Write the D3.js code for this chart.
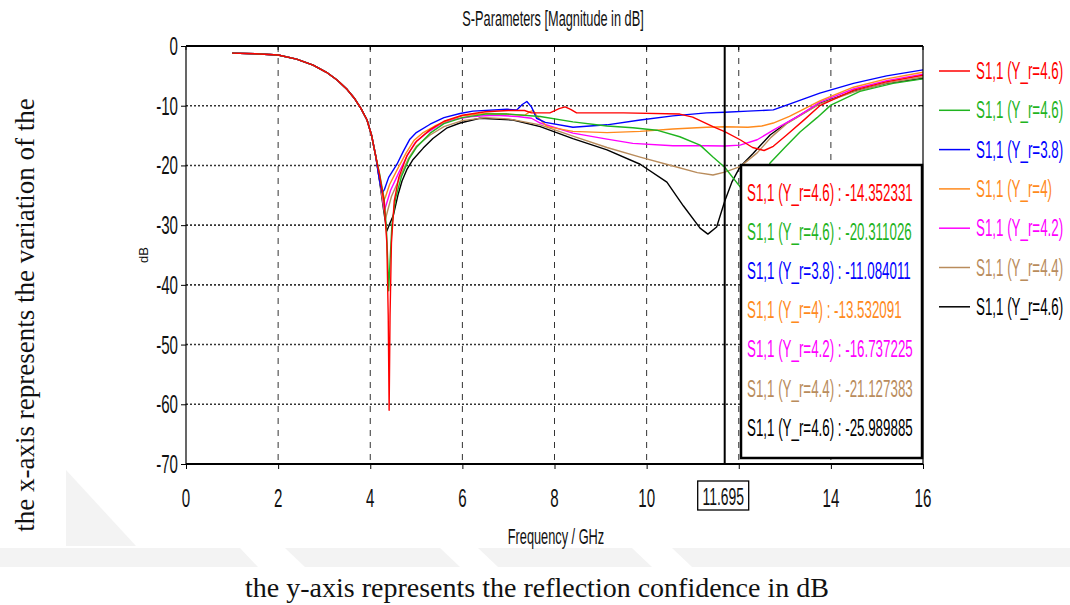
<!DOCTYPE html>
<html>
<head>
<meta charset="utf-8">
<script src="https://cdn.jsdelivr.net/npm/d3@7"></script>
<style>
  html, body { margin: 0; padding: 0; background: #fff; }
  svg { display: block; }
  .narrow { font-family: "Liberation Sans", Arial, sans-serif; }
  .serif { font-family: "Liberation Serif", "Times New Roman", serif; }
</style>
</head>
<body>
<svg id="chart" width="1070" height="605"></svg>
<script>
// ---- data -------------------------------------------------------------
const yTicks = [0, -10, -20, -30, -40, -50, -60, -70];
const xGridTicks = [0, 2, 4, 6, 8, 10, 12, 14, 16];
const xTickLabels = [0, 2, 4, 6, 8, 10, 14, 16];
const markerFreq = 11.695;

const seriesNames = ["S1,1 (Y_r=4.6)", "S1,1 (Y_r=4.6)", "S1,1 (Y_r=3.8)", "S1,1 (Y_r=4)",
                     "S1,1 (Y_r=4.2)", "S1,1 (Y_r=4.4)", "S1,1 (Y_r=4.6)"];
const seriesColors = ["#ff0000", "#1fb41f", "#0000ff", "#ff8a1c", "#ff00ff", "#b98c5c", "#000000"];
const markerValues = [-14.352331, -20.311026, -11.084011, -13.532091, -16.737225, -21.127383, -25.989885];

// low-band roll-off shared by every sweep, [GHz, dB]
const commonOnset = [[1.0,-1.2],[1.5,-1.3],[2.0,-1.5],[2.4,-2.2],[2.76,-3.2],[3.05,-4.4],[3.28,-5.7],
  [3.5,-7.3],[3.65,-8.7],[3.8,-10.5],[3.93,-12.4],[4.03,-15.0],[4.12,-18.5]];

const redTail = [[4.2,-21.5],[4.3,-26],[4.36,-33],[4.39,-45],[4.41,-61],[4.43,-45],[4.46,-33],[4.52,-26],
  [4.62,-22.0],[4.8,-18.3],[5.0,-16.0],[5.3,-14.0],[5.6,-12.6],[6.0,-11.6],[6.5,-11.0],[7.0,-10.8],
  [7.35,-10.8],[7.5,-11.2],[7.9,-11.2],[8.1,-10.5],[8.23,-10.2],[8.35,-10.6],[8.48,-11.2],[9.5,-11.2],
  [10.72,-11.4],[11.0,-11.9],[11.44,-13.5],[11.695,-14.352331],[12.03,-15.7],[12.3,-17.0],[12.55,-17.5],
  [12.75,-16.8],[13.04,-14.9],[13.4,-12.5],[13.76,-10.0],[14.5,-7.4],[15.2,-6.0],[16,-4.9]];

const greenTail = [[4.2,-21.3],[4.3,-25.5],[4.35,-30.5],[4.38,-36],[4.40,-41],[4.43,-36],[4.47,-30],
  [4.55,-25.5],[4.68,-21.8],[4.85,-18.8],[5.0,-17.0],[5.3,-14.6],[5.6,-13.0],[6.0,-12.0],[6.5,-11.4],
  [6.97,-11.4],[7.69,-11.8],[8.4,-12.7],[9.14,-13.4],[9.7,-13.7],[10.22,-14.1],[10.72,-15.2],
  [11.16,-16.6],[11.44,-18.6],[11.695,-20.311026],[12.03,-23.6],[12.28,-25.3],[12.45,-23.5],
  [12.68,-19.6],[13.0,-17.0],[13.33,-14.4],[13.7,-12.0],[14.0,-9.9],[14.63,-7.6],[15.35,-6.25],[16,-5.5]];

const blueTail = [[4.18,-21.5],[4.22,-23.3],[4.26,-24.6],[4.31,-24.0],[4.4,-22],[4.58,-19.8],[4.72,-17.6],
  [4.86,-15.6],[5.0,-14.5],[5.3,-13.1],[5.6,-12.0],[5.95,-11.3],[6.23,-10.9],[6.97,-10.6],[7.18,-10.7],
  [7.3,-9.8],[7.4,-9.3],[7.5,-10.2],[7.61,-12.1],[7.8,-12.8],[8.4,-13.6],[9.14,-13.2],[9.86,-12.4],
  [10.57,-11.7],[11.3,-11.2],[11.695,-11.084011],[12.2,-10.9],[12.75,-10.7],[13.04,-9.9],[13.4,-8.9],
  [13.76,-7.9],[14.49,-6.25],[15.21,-5.0],[16,-4.0]];

const orangeTail = [[4.2,-21.8],[4.25,-24.5],[4.29,-26.0],[4.33,-25.3],[4.42,-23.2],[4.6,-20.5],[4.78,-17.9],
  [4.95,-15.8],[5.15,-14.5],[5.4,-13.4],[5.7,-12.4],[6.0,-11.7],[6.5,-11.3],[7.0,-11.4],[7.35,-11.6],
  [7.47,-11.0],[7.54,-10.8],[7.62,-11.8],[7.84,-13.5],[8.4,-14.3],[9.14,-14.5],[9.86,-14.3],
  [10.57,-13.9],[11.3,-13.6],[11.695,-13.532091],[12.2,-13.6],[12.5,-13.4],[12.75,-12.9],[13.1,-11.8],
  [13.4,-10.6],[13.76,-9.2],[14.49,-6.9],[15.21,-5.5],[16,-4.4]];

const magentaTail = [[4.2,-22],[4.27,-25.5],[4.31,-27.5],[4.35,-26.5],[4.44,-24.2],[4.62,-21.2],[4.8,-18.4],
  [4.97,-16.2],[5.2,-14.7],[5.5,-13.2],[5.8,-12.3],[6.2,-11.8],[6.7,-11.6],[7.2,-11.8],[7.5,-12.1],
  [7.69,-12.9],[8.4,-14.6],[9.14,-15.6],[9.7,-16.3],[10.57,-16.7],[11.3,-16.7],[11.695,-16.737225],
  [12.03,-16.6],[12.4,-15.7],[12.75,-14.1],[13.3,-11.7],[13.76,-9.4],[14.49,-7.2],[15.21,-5.8],[16,-4.7]];

const brownTail = [[4.2,-22.2],[4.28,-26.5],[4.33,-29],[4.37,-27.8],[4.46,-25.2],[4.65,-21.9],[4.83,-18.8],
  [5.0,-16.8],[5.3,-14.9],[5.6,-13.5],[6.0,-12.5],[6.5,-12.0],[7.0,-12.2],[7.69,-13.2],[8.4,-15.1],
  [9.14,-17.0],[9.86,-18.6],[10.57,-20.1],[11.1,-21.2],[11.44,-21.6],[11.695,-21.127383],[12.03,-20.2],
  [12.4,-17.9],[12.7,-15.3],[13.04,-13.0],[13.76,-9.7],[14.49,-7.7],[15.21,-6.2],[16,-5.2]];

const blackTail = [[4.2,-22.5],[4.3,-28],[4.36,-31],[4.41,-30],[4.5,-28.4],[4.6,-25],[4.69,-22.6],
  [4.8,-20.6],[4.93,-19.0],[5.15,-17.1],[5.36,-15.5],[5.67,-13.7],[5.95,-12.9],[6.38,-12.1],[7.1,-12.4],
  [7.69,-13.5],[8.4,-15.5],[9.14,-17.4],[9.86,-19.8],[10.44,-22.8],[10.8,-26.8],[11.16,-30.5],
  [11.33,-31.5],[11.52,-30.3],[11.695,-25.989885],[11.85,-22.8],[12.03,-20.2],[12.31,-18.0],
  [12.68,-14.9],[13.04,-12.9],[13.76,-9.6],[14.49,-7.6],[15.21,-6.25],[16,-5.4]];

const seriesTails = [redTail, greenTail, blueTail, orangeTail, magentaTail, brownTail, blackTail];

// ---- layout -------------------------------------------------------------
const svg = d3.select("#chart");
const plot = { left: 186, right: 923, top: 46, bottom: 464 };
const x = d3.scaleLinear().domain([0, 16]).range([plot.left, plot.right]);
const y = d3.scaleLinear().domain([0, -70]).range([plot.top, plot.bottom]);
const SX = 0.58; // horizontal squeeze for the tall, narrow UI lettering

function narrowText(parent, tx, ty, str, size, anchor, fill) {
  return parent.append("text").attr("class", "narrow")
    .attr("transform", `translate(${tx},${ty}) scale(${SX},1)`)
    .attr("text-anchor", anchor).attr("font-size", size).attr("fill", fill).text(str);
}

// faint page watermark behind everything
const wm = svg.append("g").attr("fill", "#f3f3f3");
[[[0,548],[240,548],[258,567],[0,567]],
 [[285,548],[440,548],[460,567],[305,567]],
 [[478,548],[632,548],[652,567],[498,567]],
 [[672,548],[1070,548],[1070,567],[692,567]],
 [[66,470],[136,546],[66,546]]].forEach(p => wm.append("polygon").attr("points", p.join(" ")));

// title
narrowText(svg, 553, 26, "S-Parameters [Magnitude in dB]", 22, "middle", "#111");

// grid
const grid = svg.append("g");
grid.selectAll("line.v").data(xGridTicks.filter(d => d > 0 && d < 16)).join("line")
  .attr("x1", d => x(d)).attr("x2", d => x(d)).attr("y1", plot.top).attr("y2", plot.bottom)
  .attr("stroke", "#333").attr("stroke-width", 1).attr("stroke-dasharray", "6,6");
grid.selectAll("line.h").data(yTicks.filter(d => d < 0 && d > -70)).join("line")
  .attr("x1", plot.left).attr("x2", plot.right).attr("y1", d => y(d)).attr("y2", d => y(d))
  .attr("stroke", "#333").attr("stroke-width", 1.6).attr("stroke-dasharray", "2,2");

// curves
const line = d3.line().x(d => x(d[0])).y(d => y(d[1]));
const curves = svg.append("g").attr("fill", "none").attr("stroke-width", 1.4)
  .attr("stroke-linejoin", "round");
// draw back-to-front so the first sweep sits on top
for (let i = seriesTails.length - 1; i >= 0; i--) {
  curves.append("path").attr("d", line(commonOnset.concat(seriesTails[i])))
    .attr("stroke", seriesColors[i]);
}

// axes
const xAxis = d3.axisBottom(x).tickValues(xGridTicks).tickSize(5).tickFormat("");
svg.append("g").attr("transform", `translate(0,${plot.bottom})`).call(xAxis)
  .call(g => g.select(".domain").remove())
  .call(g => g.selectAll("line").attr("stroke", "#000"));
const xLab = svg.append("g");
xTickLabels.forEach(d => narrowText(xLab, x(d), 507, d, 26, "middle", "#111"));

const yAxis = d3.axisLeft(y).tickValues(yTicks).tickSize(5).tickFormat("");
svg.append("g").attr("transform", `translate(${plot.left},0)`).call(yAxis)
  .call(g => g.select(".domain").remove())
  .call(g => g.selectAll("line").attr("stroke", "#000"));
const yLab = svg.append("g");
yTicks.forEach(d => narrowText(yLab, 178, y(d) + 9, d, 26, "end", "#111"));

// inner ticks on the top and right edges
svg.append("g").selectAll("line").data(xGridTicks).join("line")
  .attr("x1", d => x(d)).attr("x2", d => x(d)).attr("y1", plot.top).attr("y2", plot.top + 4)
  .attr("stroke", "#000");
svg.append("g").selectAll("line").data(yTicks).join("line")
  .attr("x1", plot.right - 4).attr("x2", plot.right).attr("y1", d => y(d)).attr("y2", d => y(d))
  .attr("stroke", "#000");

// frame
svg.append("line").attr("x1", plot.left).attr("x2", plot.right).attr("y1", plot.top).attr("y2", plot.top)
  .attr("stroke", "#000").attr("stroke-width", 2);
svg.append("line").attr("x1", plot.left).attr("x2", plot.right).attr("y1", plot.bottom).attr("y2", plot.bottom)
  .attr("stroke", "#000").attr("stroke-width", 2);
svg.append("line").attr("x1", plot.left).attr("x2", plot.left).attr("y1", plot.top).attr("y2", plot.bottom)
  .attr("stroke", "#000").attr("stroke-width", 1.2);
svg.append("line").attr("x1", plot.right).attr("x2", plot.right).attr("y1", plot.top).attr("y2", plot.bottom)
  .attr("stroke", "#000").attr("stroke-width", 1.2);

// marker line and its frequency label
svg.append("line").attr("x1", x(markerFreq)).attr("x2", x(markerFreq))
  .attr("y1", plot.top).attr("y2", plot.bottom).attr("stroke", "#000").attr("stroke-width", 2);
svg.append("rect").attr("x", x(markerFreq) - 27).attr("y", 481).attr("width", 51).attr("height", 29)
  .attr("fill", "#fff").attr("stroke", "#000").attr("stroke-width", 1.3);
narrowText(svg, x(markerFreq) - 1.5, 505, markerFreq.toFixed(3), 24, "middle", "#111");

// marker readout box
const box = svg.append("g");
box.append("rect").attr("x", 741).attr("y", 165).attr("width", 181).attr("height", 293)
  .attr("fill", "#fff").attr("stroke", "#000").attr("stroke-width", 2.5);
seriesNames.forEach((name, i) =>
  narrowText(box, 747, 201 + i * 39.1, `${name} : ${markerValues[i].toFixed(6)}`, 23, "start", seriesColors[i]));

// legend
const legend = svg.append("g");
seriesNames.forEach((name, i) => {
  const ly = 71 + i * 39.3;
  legend.append("line").attr("x1", 939).attr("x2", 970).attr("y1", ly).attr("y2", ly)
    .attr("stroke", seriesColors[i]).attr("stroke-width", 1.5);
  narrowText(legend, 976, ly + 8, name, 23, "start", seriesColors[i]);
});

// axis titles
narrowText(svg, 556, 544, "Frequency / GHz", 22, "middle", "#111");
svg.append("text").attr("transform", "translate(148,255) rotate(-90)").attr("text-anchor", "middle")
  .attr("font-family", "Liberation Sans, Arial, sans-serif").attr("font-size", 13).attr("fill", "#111")
  .text("dB");

// caption text
svg.append("text").attr("class", "serif").attr("transform", "translate(34,315) rotate(-90)")
  .attr("text-anchor", "middle").attr("font-size", 27).attr("fill", "#111")
  .text("the x-axis represents the variation of the");
svg.append("text").attr("class", "serif").attr("x", 537).attr("y", 597).attr("text-anchor", "middle")
  .attr("font-size", 28).attr("fill", "#111")
  .text("the y-axis represents the reflection confidence in dB");
</script>
</body>
</html>
